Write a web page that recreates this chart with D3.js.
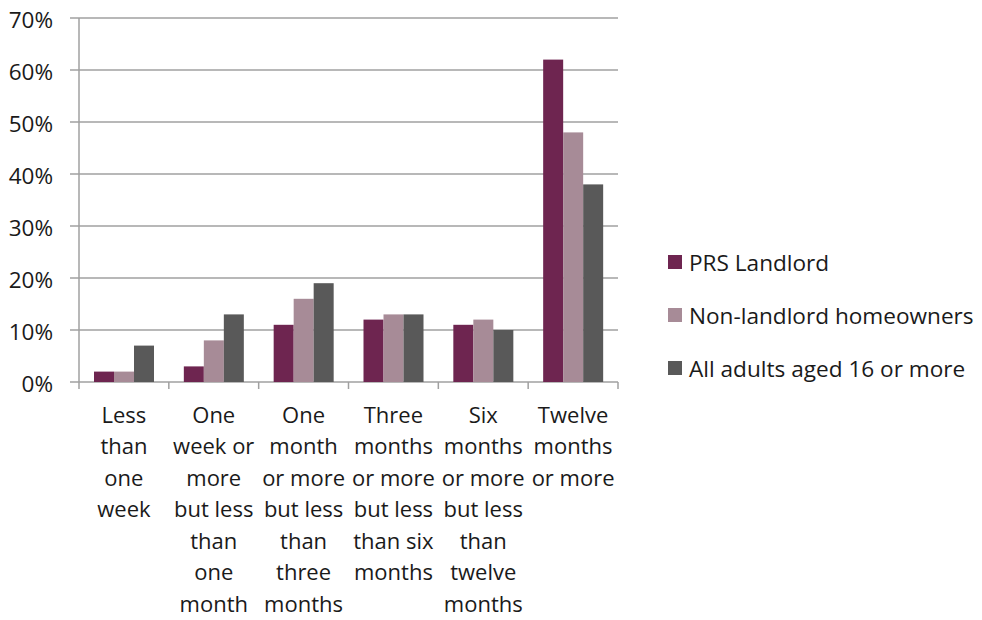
<!DOCTYPE html>
<html><head><meta charset="utf-8">
<script src="https://cdn.jsdelivr.net/npm/d3@7"></script>
<style>body{margin:0;background:#fff}svg{display:block}text{font-family:"Open Sans",sans-serif;fill:#1a1a1a}</style>
</head><body>
<script>
const categories = ["Less than one week","One week or more but less than one month","One month or more but less than three months","Three months or more but less than six months","Six months or more but less than twelve months","Twelve months or more"];
const categoryLines = [
  ["Less","than","one","week"],
  ["One","week or","more","but less","than","one","month"],
  ["One","month","or more","but less","than","three","months"],
  ["Three","months","or more","but less","than six","months"],
  ["Six","months","or more","but less","than","twelve","months"],
  ["Twelve","months","or more"]
];
const seriesNames = ["PRS Landlord","Non-landlord homeowners","All adults aged 16 or more"];
const prsLandlord = [2,3,11,12,11,62];
const nonLandlord = [2,8,16,13,12,48];
const allAdults = [7,13,19,13,10,38];
const colors = ["#6e2550","#a78b97","#595959"];
const yTicks = [0,10,20,30,40,50,60,70];

const W=982,H=620;
const svg=d3.select("body").append("svg").attr("width",W).attr("height",H);
const x=d3.scaleBand().domain(categories).range([79,618]);
const y=d3.scaleLinear().domain([0,70]).range([382,18]);
const xs=d3.scaleBand().domain(seriesNames).range([0,60]);
const series=[prsLandlord,nonLandlord,allAdults];

// gridlines
svg.append("g").selectAll("line").data(yTicks).join("line")
  .attr("x1",70).attr("x2",618).attr("y1",d=>y(d)).attr("y2",d=>y(d))
  .attr("stroke","#a0a0a0").attr("stroke-width",1.5);
// y axis
svg.append("line").attr("x1",79).attr("x2",79).attr("y1",18).attr("y2",382).attr("stroke","#a0a0a0").attr("stroke-width",1.5);
svg.append("g").selectAll("text").data(yTicks).join("text")
  .attr("x",53).attr("y",d=>y(d)+2).attr("dy","0.36em").attr("text-anchor","end")
  .attr("font-size",22.5).text(d=>d+"%");
// x ticks
const tickX=categories.map(c=>x(c)).concat([x.range()[1]]);
svg.append("g").selectAll("line").data(tickX).join("line")
  .attr("x1",d=>d).attr("x2",d=>d).attr("y1",382).attr("y2",389)
  .attr("stroke","#a0a0a0").attr("stroke-width",1.5);
// bars
series.forEach((vals,si)=>{
  svg.append("g").selectAll("rect").data(vals).join("rect")
    .attr("x",(d,i)=>x(categories[i])+15+xs(seriesNames[si]))
    .attr("width",xs.bandwidth())
    .attr("y",d=>y(d)).attr("height",d=>y(0)-y(d))
    .attr("fill",colors[si]);
});
// category labels
categories.forEach((c,i)=>{
  const t=svg.append("text").attr("text-anchor","middle").attr("font-size",22);
  categoryLines[i].forEach((ln,j)=>{
    t.append("tspan").attr("x",x(c)+x.bandwidth()/2).attr("y",415+j*31.5).attr("dy","0.36em").text(ln);
  });
});
// legend
const lg=svg.append("g");
seriesNames.forEach((s,i)=>{
  const cy=262+i*53;
  lg.append("rect").attr("x",668).attr("y",cy-7).attr("width",14).attr("height",14).attr("fill",colors[i]);
  lg.append("text").attr("x",689).attr("y",cy+1).attr("dy","0.36em").attr("font-size",22.6).text(s);
});
</script>
</body></html>
